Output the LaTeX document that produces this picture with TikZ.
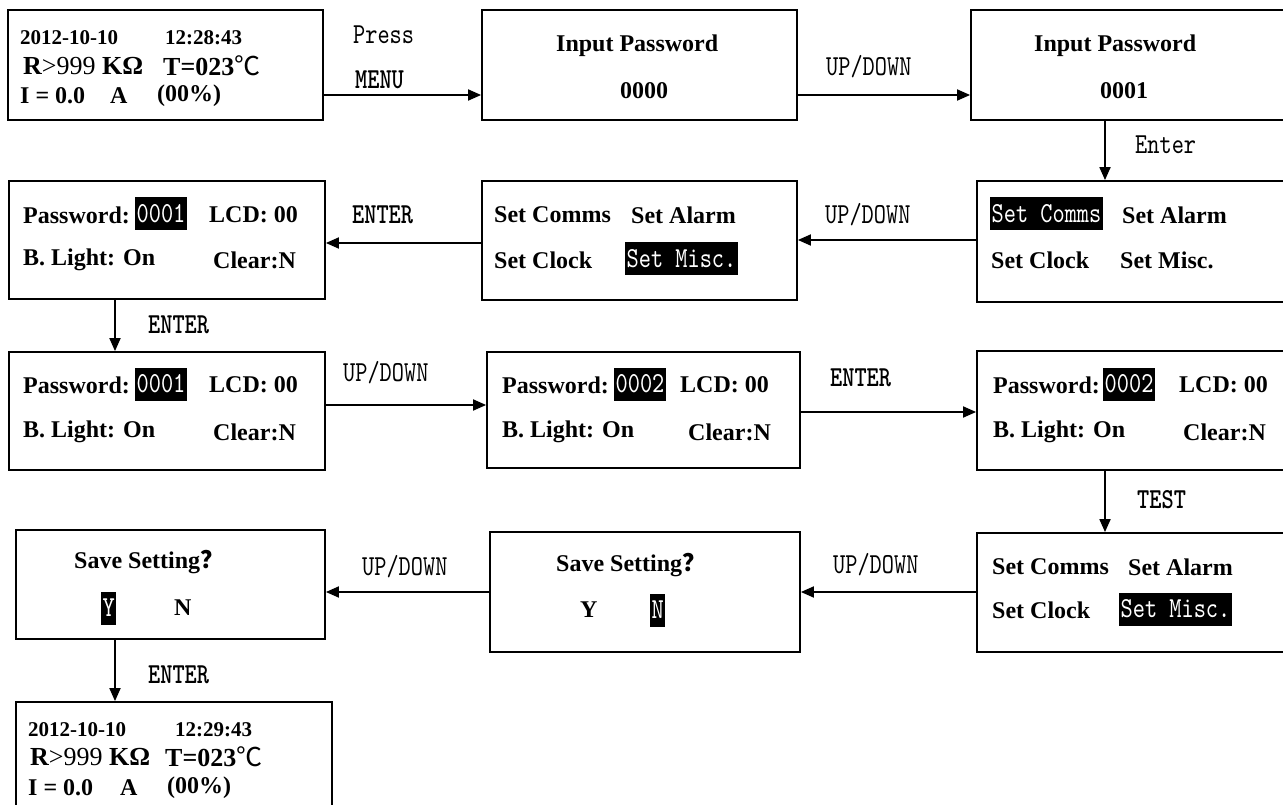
\documentclass[tikz,border=0pt]{standalone}
\usepackage{fontspec}
\setmainfont{Liberation Serif}
\newfontfamily\monofam{lmmono10-regular.otf}[FakeStretch=0.8, BoldFont=lmmonolt10-bold.otf]
\newfontfamily\cjkfam{Noto Sans CJK SC}
\usetikzlibrary{arrows.meta,fit}
\newcommand\fsz[1]{\fontsize{#1}{#1}\selectfont}
\tikzset{
  box/.style={draw, line width=1.8pt, inner sep=0pt},
  arr/.style={line width=1.8pt, -{Triangle[length=13pt,width=11pt]}},
  txt/.style={anchor=west, inner sep=0pt, font=\fsz{24}\bfseries},
  small/.style={anchor=west, inner sep=0pt, font=\fsz{21}\bfseries},
  big/.style={anchor=west, inner sep=0pt, font=\fsz{26}\bfseries},
  lbl/.style={anchor=west, inner sep=0pt, font=\monofam\fsz{29}},
  lblb/.style={anchor=west, inner sep=0pt, font=\monofam\fsz{29}\bfseries},
  hl/.style={anchor=west, fill=black, text=white, inner xsep=1.5pt, inner ysep=0pt, minimum height=33pt, font=\monofam\fsz{29}},
}
\begin{document}
\begin{tikzpicture}[x=1pt,y=-1pt]
\useasboundingbox (0,0) rectangle (1283,805);
\clip (0,0) rectangle (1283,805);
% helper coordinates
\coordinate (xL) at (115,0);
\coordinate (xR) at (1105,0);
\coordinate (y1) at (0,95);
\coordinate (y2a) at (0,240);
\coordinate (y2b) at (0,243);
\coordinate (y3a) at (0,405);
\coordinate (y3b) at (0,412);
\coordinate (y4) at (0,592);
% boxes
\node[box, fit={(8,10) (323,120)}] (b1) {};
\node[box, fit={(482,10) (797,120)}] (b2) {};
\node[box, fit={(971,10) (1300,120)}] (b3) {};
\node[box, fit={(9,181) (325,299)}] (b4) {};
\node[box, fit={(482,181) (797,300)}] (b5) {};
\node[box, fit={(977,181) (1300,302)}] (b6) {};
\node[box, fit={(9,352) (325,470)}] (b7) {};
\node[box, fit={(487,352) (800,468)}] (b8) {};
\node[box, fit={(977,351) (1300,470)}] (b9) {};
\node[box, fit={(16,530) (325,639)}] (b10) {};
\node[box, fit={(490,532) (800,652)}] (b11) {};
\node[box, fit={(977,533) (1300,652)}] (b12) {};
\node[box, fit={(16,702) (332,850)}] (b13) {};
% box 1
\node[small] (t1a) at (20,38) {2012-10-10};
\node[small] (t1b) at (165,38) {12:28:43};
\node[big] (t1c) at (23,66) {R{\mdseries >999} KΩ};
\node[big] (t1d) at (163,66) {T=023{\cjkfam\mdseries ℃}};
\node[txt] (t1e) at (20,96) {I = 0.0};
\node[txt] (t1f) at (110,96) {A};
\node[txt] (t1g) at (157,96) {(00\%)};
% box 2, 3
\node[txt] (t2a) at (556,46) {Input Password};
\node[txt] (t2b) at (620,91) {0000};
\node[txt] (t3a) at (1034,46) {Input Password};
\node[txt] (t3b) at (1100,91) {0001};
% box 4
\node[txt] (t4a) at (23,215) {Password:};
\node[hl] (t4b) at (135,214) {0001};
\node[txt] (t4c) at (209,215) {LCD: 00};
\node[txt] (t4d) at (23,260) {B. Light: On};
\node[txt] (t4e) at (213,260) {Clear:N};
% box 5
\node[txt] (t5a) at (494,215) {Set Comms};
\node[txt] (t5b) at (631,215) {Set Alarm};
\node[txt] (t5c) at (494,260) {Set Clock};
\node[hl] (t5d) at (625,259) {Set Misc.};
% box 6
\node[hl] (t6a) at (990,214) {Set Comms};
\node[txt] (t6b) at (1122,215) {Set Alarm};
\node[txt] (t6c) at (991,260) {Set Clock};
\node[txt] (t6d) at (1120,260) {Set Misc.};
% box 7
\node[txt] (t7a) at (23,385) {Password:};
\node[hl] (t7b) at (135,384) {0001};
\node[txt] (t7c) at (209,385) {LCD: 00};
\node[txt] (t7d) at (23,432) {B. Light: On};
\node[txt] (t7e) at (213,432) {Clear:N};
% box 8
\node[txt] (t8a) at (502,385) {Password:};
\node[hl] (t8b) at (614,384) {0002};
\node[txt] (t8c) at (680,385) {LCD: 00};
\node[txt] (t8d) at (502,432) {B. Light: On};
\node[txt] (t8e) at (688,432) {Clear:N};
% box 9
\node[txt] (t9a) at (993,385) {Password:};
\node[hl] (t9b) at (1103,384) {0002};
\node[txt] (t9c) at (1179,385) {LCD: 00};
\node[txt] (t9d) at (993,432) {B. Light: On};
\node[txt] (t9e) at (1183,432) {Clear:N};
% box 10
\node[txt] (t10a) at (74,562) {Save Setting{\cjkfam ？}};
\node[hl] (t10b) at (101,608) {Y};
\node[txt] (t10c) at (174,608) {N};
% box 11
\node[txt] (t11a) at (556,565) {Save Setting{\cjkfam ？}};
\node[txt] (t11b) at (580,610) {Y};
\node[hl] (t11c) at (650,610) {N};
% box 12
\node[txt] (t12a) at (992,567) {Set Comms};
\node[txt] (t12b) at (1128,567) {Set Alarm};
\node[txt] (t12c) at (992,610) {Set Clock};
\node[hl] (t12d) at (1119,609) {Set Misc.};
% box 13
\node[small] (t13a) at (28,730) {2012-10-10};
\node[small] (t13b) at (175,730) {12:29:43};
\node[big] (t13c) at (30,757) {R{\mdseries >999} KΩ};
\node[big] (t13d) at (165,757) {T=023{\cjkfam\mdseries ℃}};
\node[txt] (t13e) at (28,788) {I = 0.0};
\node[txt] (t13f) at (120,788) {A};
\node[txt] (t13g) at (167,788) {(00\%)};
% connectors
\draw[arr] (b1.east |- y1) -- (b2.west |- y1);
\draw[arr] (b2.east |- y1) -- (b3.west |- y1);
\draw[arr] (b3.south -| xR) -- (b6.north -| xR);
\draw[arr] (b6.west |- y2a) -- (b5.east |- y2a);
\draw[arr] (b5.west |- y2b) -- (b4.east |- y2b);
\draw[arr] (b4.south -| xL) -- (b7.north -| xL);
\draw[arr] (b7.east |- y3a) -- (b8.west |- y3a);
\draw[arr] (b8.east |- y3b) -- (b9.west |- y3b);
\draw[arr] (b9.south -| xR) -- (b12.north -| xR);
\draw[arr] (b12.west |- y4) -- (b11.east |- y4);
\draw[arr] (b11.west |- y4) -- (b10.east |- y4);
\draw[arr] (b10.south -| xL) -- (b13.north -| xL);
% labels
\node[lbl] (l1a) at (353,35) {Press};
\node[lblb] (l1b) at (355,80) {MENU};
\node[lbl] (l2) at (826,67) {UP/DOWN};
\node[lbl] (l3) at (1135,145) {Enter};
\node[lbl] (l4) at (825,215) {UP/DOWN};
\node[lblb] (l5) at (352,215) {ENTER};
\node[lblb] (l6) at (148,325) {ENTER};
\node[lbl] (l7) at (343,373) {UP/DOWN};
\node[lblb] (l8) at (830,378) {ENTER};
\node[lblb] (l9) at (1137,500) {TEST};
\node[lbl] (l10) at (833,565) {UP/DOWN};
\node[lbl] (l11) at (362,567) {UP/DOWN};
\node[lblb] (l12) at (148,675) {ENTER};
\end{tikzpicture}
\end{document}
